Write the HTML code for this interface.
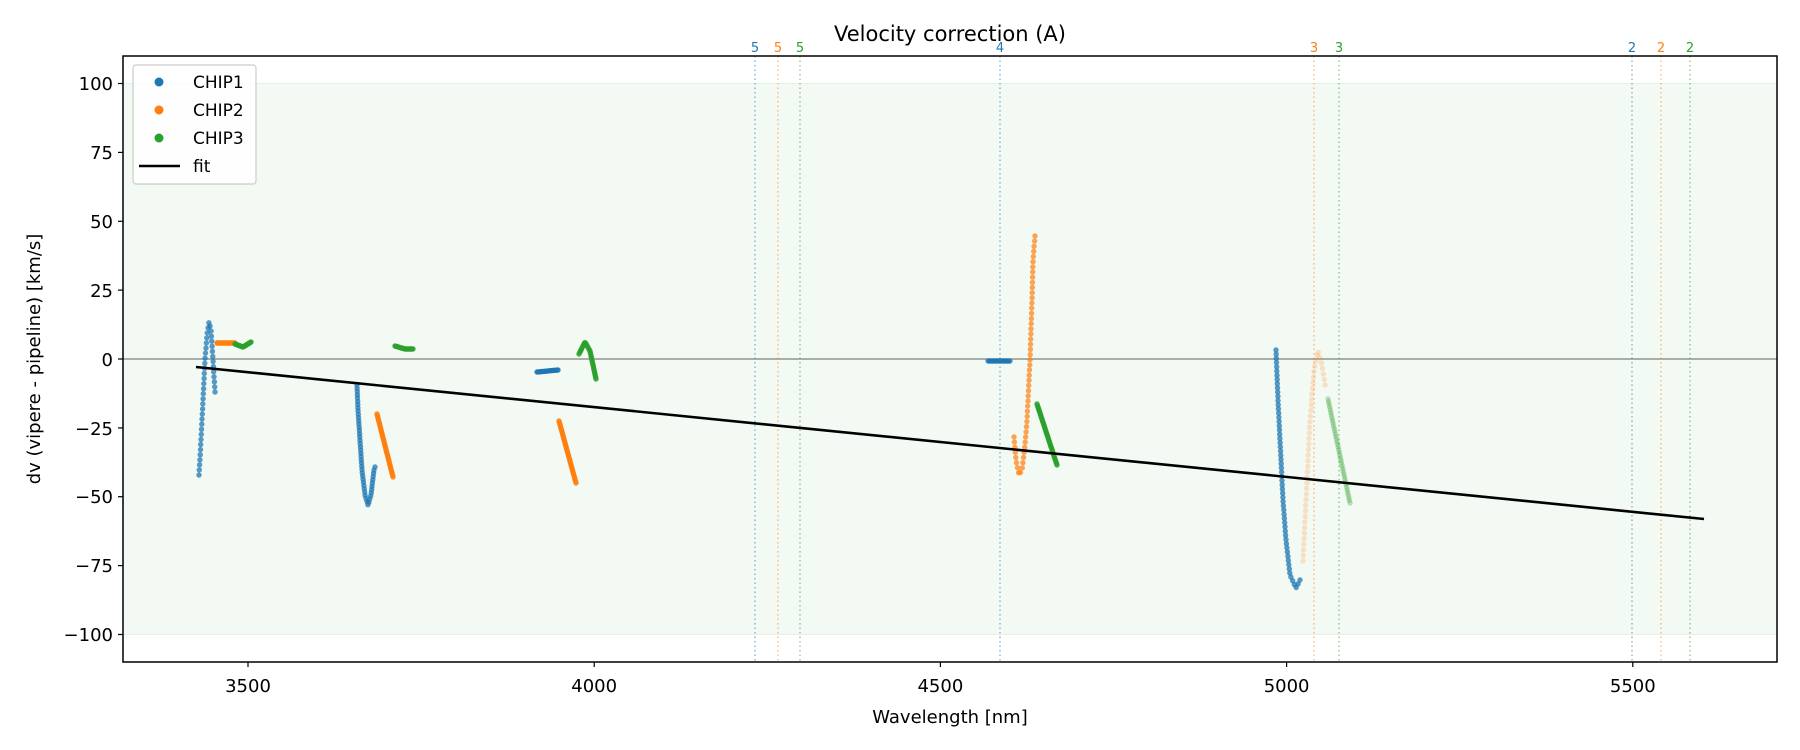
<!DOCTYPE html>
<html><head><meta charset="utf-8"><style>
html,body{margin:0;padding:0;background:#fff;}
svg{display:block;font-family:"DejaVu Sans","Liberation Sans",sans-serif;}
</style></head><body>
<svg id="s" width="1800" height="750" viewBox="0 0 1800 750" xmlns="http://www.w3.org/2000/svg">
<rect x="0" y="0" width="1800" height="750" fill="#fff"/>
<!-- band -->
<rect x="123" y="83.5" width="1654" height="551" fill="#2ca02c" fill-opacity="0.06"/>
<line x1="123" y1="83.5" x2="1777" y2="83.5" stroke="#2ca02c" stroke-opacity="0.1"/>
<line x1="123" y1="634.5" x2="1777" y2="634.5" stroke="#2ca02c" stroke-opacity="0.1"/>
<line x1="123" y1="359" x2="1777" y2="359" stroke="#808080" stroke-width="1.2"/>
<g stroke-width="1.5" stroke-dasharray="1.5,3" stroke-opacity="0.5">
<line x1="755" y1="56" x2="755" y2="662" stroke="#1f77b4"/>
<line x1="778" y1="56" x2="778" y2="662" stroke="#ff7f0e"/>
<line x1="800" y1="56" x2="800" y2="662" stroke="#2ca02c"/>
<line x1="1000" y1="56" x2="1000" y2="662" stroke="#1f77b4"/>
<line x1="1314" y1="56" x2="1314" y2="662" stroke="#ff7f0e"/>
<line x1="1339" y1="56" x2="1339" y2="662" stroke="#2ca02c"/>
<line x1="1632" y1="56" x2="1632" y2="662" stroke="#1f77b4"/>
<line x1="1661" y1="56" x2="1661" y2="662" stroke="#ff7f0e"/>
<line x1="1690" y1="56" x2="1690" y2="662" stroke="#2ca02c"/>
</g>
<g font-size="13" text-anchor="middle">
<text x="755" y="52" fill="#1f77b4">5</text>
<text x="778" y="52" fill="#ff7f0e">5</text>
<text x="800" y="52" fill="#2ca02c">5</text>
<text x="1000" y="52" fill="#1f77b4">4</text>
<text x="1314" y="52" fill="#ff7f0e">3</text>
<text x="1339" y="52" fill="#2ca02c">3</text>
<text x="1632" y="52" fill="#1f77b4">2</text>
<text x="1661" y="52" fill="#ff7f0e">2</text>
<text x="1690" y="52" fill="#2ca02c">2</text>
</g>
<g id="pts"></g>
<line x1="196" y1="367" x2="1704" y2="519" stroke="#000" stroke-width="2.6"/>
<!-- axes -->
<rect x="123" y="56" width="1654" height="606" fill="none" stroke="#000" stroke-width="1.5"/>
<g stroke="#000" stroke-width="1.2">
<line x1="118" y1="83.5" x2="123" y2="83.5"/><line x1="118" y1="152.4" x2="123" y2="152.4"/>
<line x1="118" y1="221.3" x2="123" y2="221.3"/><line x1="118" y1="290.1" x2="123" y2="290.1"/>
<line x1="118" y1="359" x2="123" y2="359"/><line x1="118" y1="427.9" x2="123" y2="427.9"/>
<line x1="118" y1="496.7" x2="123" y2="496.7"/><line x1="118" y1="565.6" x2="123" y2="565.6"/>
<line x1="118" y1="634.5" x2="123" y2="634.5"/>
<line x1="248" y1="662" x2="248" y2="667"/><line x1="594.2" y1="662" x2="594.2" y2="667"/>
<line x1="940.4" y1="662" x2="940.4" y2="667"/><line x1="1286.6" y1="662" x2="1286.6" y2="667"/>
<line x1="1632.8" y1="662" x2="1632.8" y2="667"/>
</g>
<g font-size="18" text-anchor="end" fill="#000">
<text x="113" y="90">100</text><text x="113" y="159">75</text><text x="113" y="228">50</text>
<text x="113" y="297">25</text><text x="113" y="366">0</text><text x="113" y="435">−25</text>
<text x="113" y="503">−50</text><text x="113" y="572">−75</text><text x="113" y="641">−100</text>
</g>
<g font-size="18" text-anchor="middle" fill="#000">
<text x="248" y="692">3500</text><text x="594.2" y="692">4000</text><text x="940.4" y="692">4500</text>
<text x="1286.6" y="692">5000</text><text x="1632.8" y="692">5500</text>
<text x="950" y="723">Wavelength [nm]</text>
<text x="950" y="41" font-size="21">Velocity correction (A)</text>
<text transform="translate(40,359) rotate(-90)">dv (vipere - pipeline) [km/s]</text>
</g>
<!-- legend -->
<rect x="133" y="65" width="123" height="119" rx="3" fill="#fff" fill-opacity="0.8" stroke="#ccc" stroke-width="1.2"/>
<circle cx="159" cy="82" r="4.5" fill="#1f77b4"/>
<circle cx="159" cy="110" r="4.5" fill="#ff7f0e"/>
<circle cx="159" cy="138" r="4.5" fill="#2ca02c"/>
<line x1="139" y1="166" x2="180" y2="166" stroke="#000" stroke-width="2.6"/>
<g font-size="17" fill="#000">
<text x="193" y="88">CHIP1</text><text x="193" y="116">CHIP2</text>
<text x="193" y="144">CHIP3</text><text x="193" y="172">fit</text>
</g>
</svg>
<script>
var B="#1f77b4",O="#ff7f0e",G="#2ca02c";
var S=[
[B,0.75,45,[[199,475],[201,440],[203,400],[205,360],[207,335],[209,322],[211,330],[213,360],[215,392]]],
[O,0.85,25,[[217,343],[235,343]]],
[G,0.85,25,[[235,344],[243,347],[251,342]]],
[B,0.75,50,[[357,385],[358,410],[360,440],[362,470],[365,495],[368,505],[371,495],[374,470],[375,467]]],
[O,0.85,40,[[377,414],[393,477]]],
[G,0.85,20,[[395,346],[405,349],[413,349]]],
[B,0.85,20,[[537,372],[558,370]]],
[G,0.85,30,[[579,354],[585,342],[590,351],[596,379]]],
[O,0.85,40,[[559,421],[576,483]]],
[B,0.75,20,[[988,361],[1010,361]]],
[O,0.7,55,[[1014,437],[1016,460],[1019,475],[1022,470],[1025,445],[1027,420],[1030,360],[1032,300],[1033,260],[1035,236]]],
[G,0.85,40,[[1037,404],[1057,465]]],
[B,0.75,60,[[1276,350],[1278,400],[1280,440],[1283,500],[1286,540],[1290,575],[1296,588],[1300,580]]],
[O,0.2,45,[[1303,561],[1306,500],[1310,420],[1314,370],[1318,351],[1322,365],[1325,385]]],
[G,0.3,40,[[1328,399],[1350,503]]]
];
var g=document.getElementById("pts"),h="";
S.forEach(function(s){
 var p=s[3],L=[0],t=0;
 for(var i=1;i<p.length;i++){t+=Math.hypot(p[i][0]-p[i-1][0],p[i][1]-p[i-1][1]);L.push(t);}
 for(var k=0;k<s[2];k++){
  var d=t*k/(s[2]-1),j=1;while(j<p.length-1&&L[j]<d)j++;
  var f=(d-L[j-1])/((L[j]-L[j-1])||1);
  var x=p[j-1][0]+f*(p[j][0]-p[j-1][0]),y=p[j-1][1]+f*(p[j][1]-p[j-1][1]);
  h+='<circle cx="'+x.toFixed(1)+'" cy="'+y.toFixed(1)+'" r="2.7" fill="'+s[0]+'" fill-opacity="'+s[1]+'"/>';
 }
});
g.innerHTML=h;
</script>
</body></html>
